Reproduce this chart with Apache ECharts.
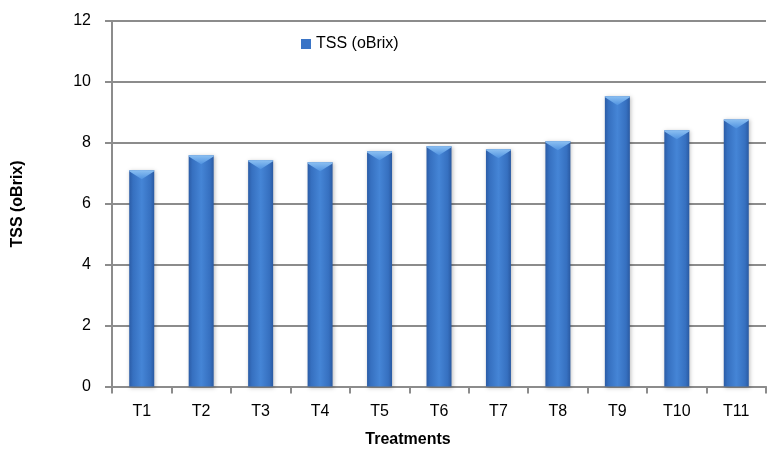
<!DOCTYPE html>
<html><head><meta charset="utf-8">
<script src="https://cdn.jsdelivr.net/npm/echarts@6/dist/echarts.min.js"></script>
<style>html,body{margin:0;padding:0;background:#fff}#c{width:771px;height:452px}</style>
</head><body><div id="c"></div>
<script>
const categories = ['T1','T2','T3','T4','T5','T6','T7','T8','T9','T10','T11'];
const tssValues = [7.10, 7.59, 7.43, 7.36, 7.72, 7.89, 7.79, 8.05, 9.53, 8.41, 8.77];
const seriesName = 'TSS (oBrix)';
const yAxisTitle = 'TSS (oBrix)';
const xAxisTitle = 'Treatments';

const chart = echarts.init(document.getElementById('c'));
const font = 'Liberation Sans';
const gray = '#8c8c8c';
const barGrad = new echarts.graphic.LinearGradient(0,0,1,0,[
  {offset:0,color:'#2b5ca6'},{offset:0.15,color:'#3670c0'},
  {offset:0.5,color:'#4585d6'},{offset:0.85,color:'#3670c0'},{offset:1,color:'#2a5aa2'}]);
chart.setOption({
  animation:false,
  textStyle:{fontFamily:font},
  grid:{left:112,right:5,top:21,bottom:65.5},
  legend:{
    left:296, top:31, itemWidth:10, itemHeight:10, itemGap:6,
    textStyle:{fontFamily:font,fontSize:16,color:'#000'},
    data:[{name:seriesName,icon:'rect',itemStyle:{color:'#3a74c6'}}]
  },
  xAxis:{
    type:'category', data:categories, boundaryGap:true,
    axisLine:{lineStyle:{color:gray,width:2}},
    axisTick:{show:true,length:7,interval:0,lineStyle:{color:gray,width:2}},
    axisLabel:{fontFamily:font,fontSize:16,color:'#000',margin:17,interval:0}
  },
  yAxis:{
    type:'value', min:0, max:12, interval:2,
    axisLine:{show:true,lineStyle:{color:gray,width:2}},
    axisTick:{show:true,length:7,lineStyle:{color:gray,width:2}},
    splitLine:{lineStyle:{color:gray,width:2}},
    axisLabel:{fontFamily:font,fontSize:16,color:'#000',margin:21}
  },
  graphic:[
    {type:'text',x:408,y:440,style:{text:xAxisTitle,font:'bold 16px '+font,fill:'#000',textAlign:'center',textVerticalAlign:'middle'}},
    {type:'text',x:18,y:204,rotation:Math.PI/2,style:{text:yAxisTitle,font:'bold 16px '+font,fill:'#000',textAlign:'center',textVerticalAlign:'middle'}}
  ],
  series:[
    {name:seriesName,type:'bar',data:tssValues,barWidth:25,z:2,
     itemStyle:{color:barGrad,shadowColor:'rgba(0,0,0,0.25)',shadowBlur:4,shadowOffsetX:1,shadowOffsetY:1}},
    {name:'cap',type:'pictorialBar',data:tssValues,z:3,
     symbol:'path://M0,0 L20,0 L20,1 L10,8 L0,1 Z',
     symbolSize:[25,9],symbolPosition:'end',
     itemStyle:{color:new echarts.graphic.LinearGradient(0,0,0,1,[{offset:0,color:'#8cc0f2'},{offset:1,color:'#4f92e0'}])},
     tooltip:{show:false},legendHoverLink:false}
  ]
});
</script></body></html>
